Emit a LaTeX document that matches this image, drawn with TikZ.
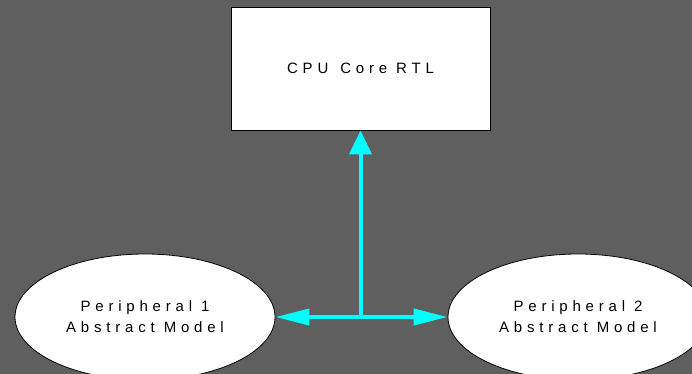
\documentclass[tikz,border=0pt]{standalone}
\usepackage{fontspec}
\newfontfamily\labelfont{Liberation Sans}[LetterSpace=32]
\usetikzlibrary{shapes.geometric,arrows.meta}
\definecolor{bggrey}{RGB}{95,95,95}
\definecolor{linkcyan}{RGB}{0,255,255}

\begin{document}
\begin{tikzpicture}[x=1pt,y=-1pt,
  block/.style={draw=black,fill=white,line width=0.8pt,minimum width=259pt,minimum height=123pt,font=\labelfont\fontsize{15}{21}\selectfont},
  model/.style={ellipse,draw=black,fill=white,line width=0.8pt,inner sep=0pt,minimum width=260pt,minimum height=126pt,align=center,font=\labelfont\fontsize{15}{21}\selectfont},
  link/.style={linkcyan,line width=4pt}]
\fill[bggrey] (0,0) rectangle (692,374);
\useasboundingbox (0,0) rectangle (692,374);

\node[block] (cpu) at (360.5,68.5) {CPU\hspace{3pt} Core RTL};
\node[model] (per1) at (145,317) {Peripheral 1\\Abstract Model};
\node[model] (per2) at (578,317) {Peripheral 2\\Abstract Model};

\coordinate (hub) at (cpu.south |- per1.east);

\draw[link,-{Triangle[length=24pt,width=22pt]}] (hub) -- (cpu.south);
\draw[link,-{Triangle[length=34pt,width=16pt]}] (hub) -- (per1.east);
\draw[link,-{Triangle[length=34pt,width=16pt]}] (hub) -- (per2.west);
\end{tikzpicture}
\end{document}
